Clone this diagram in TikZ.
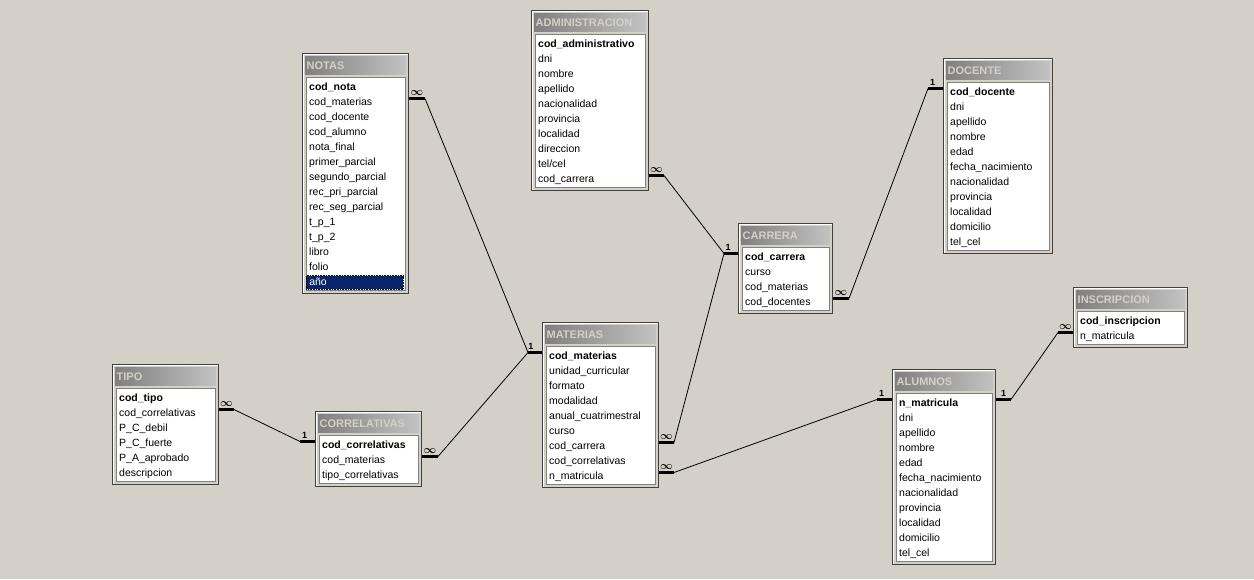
\documentclass[tikz,border=0pt]{standalone}
\usepackage{fontspec}
\setmainfont{Liberation Sans}
\usetikzlibrary{calc}
\definecolor{winbg}{RGB}{212,208,200}
\definecolor{ttldark}{RGB}{128,128,128}
\definecolor{ttllight}{RGB}{194,194,194}
\definecolor{selblue}{RGB}{10,36,106}
\definecolor{frmdark}{RGB}{64,64,64}
\tikzset{
  tblwin/.style={draw=frmdark, fill=winbg, line width=1, anchor=north west, inner sep=0},
  tbltitle/.style={font=\fontsize{11}{12}\selectfont\bfseries, text=winbg, inner sep=0, anchor=west},
  listbox/.style={draw=ttldark, fill=white, line width=1},
  field/.style={font=\fontsize{10.5}{12}\selectfont, inner xsep=1, inner ysep=0,
      text height=8, text depth=2.5, anchor=west},
  stubline/.style={line width=3, black},
  relline/.style={line width=0.8, black},
  cardlbl/.style={font=\fontsize{9}{9}\selectfont\bfseries, inner sep=0, above=2},
}
\newcommand{\manysym}{{\fontsize{11}{11}\selectfont\boldmath$\infty$}}
% name, left, top, width, rows, title, fields
\newcommand{\dbtable}[7]{%
  \node[tblwin, minimum width=#4, minimum height={30+15*#5}] (#1) at (#2,#3) {};
  \draw[white, line width=1] ($(#1.south west)+(1.5,-1.5)$) |- ($(#1.north east)+(-1.5,1.5)$);
  \shade[left color=ttldark, right color=ttllight] ($(#1.north west)+(3,3)$) rectangle ($(#1.north east)+(-3,21)$);
  \node[tbltitle] (#1-title) at ($(#1.north west)+(4.5,12.5)$) {#6};
  \draw[listbox] ($(#1.north west)+(4,24)$) rectangle ($(#1.south east)+(-4,-4)$);
  \foreach \f [count=\i] in {#7} {
    \node[field] (#1-\i) at ($(#1.north west)+(6,19.5+15*\i)$) {\ifnum\i=1 \bfseries\fi\f};
  }
}

\begin{document}
\begin{tikzpicture}[x=1pt, y=-1pt]
  \fill[winbg] (0,0) rectangle (1254,579);

  % tables
  \dbtable{notas}{302}{53}{106}{14}{NOTAS}{cod\_nota,cod\_materias,cod\_docente,cod\_alumno,nota\_final,primer\_parcial,segundo\_parcial,rec\_pri\_parcial,rec\_seg\_parcial,t\_p\_1,t\_p\_2,libro,folio,año}
  \node[field, fill=selblue, text=white, text width=91, inner xsep=3, inner ysep=1.5, align=left,
      draw=black, densely dotted, line width=0.6] (notas-sel) at ($(notas-14.west)+(-2,0)$) {año};
  \dbtable{admin}{531}{10}{117}{10}{ADMINISTRACION}{cod\_administrativo,dni,nombre,apellido,nacionalidad,provincia,localidad,direccion,tel/cel,cod\_carrera}
  \dbtable{docente}{943}{58}{109}{11}{DOCENTE}{cod\_docente,dni,apellido,nombre,edad,fecha\_nacimiento,nacionalidad,provincia,localidad,domicilio,tel\_cel}
  \dbtable{carrera}{738}{223}{94}{4}{CARRERA}{cod\_carrera,curso,cod\_materias,cod\_docentes}
  \dbtable{materias}{542}{322}{116}{9}{MATERIAS}{cod\_materias,unidad\_curricular,formato,modalidad,anual\_cuatrimestral,curso,cod\_carrera,cod\_correlativas,n\_matricula}
  \dbtable{alumnos}{892}{369}{103}{11}{ALUMNOS}{n\_matricula,dni,apellido,nombre,edad,fecha\_nacimiento,nacionalidad,provincia,localidad,domicilio,tel\_cel}
  \dbtable{tipo}{112}{364}{106}{6}{TIPO}{cod\_tipo,cod\_correlativas,P\_C\_debil,P\_C\_fuerte,P\_A\_aprobado,descripcion}
  \dbtable{correl}{315}{411}{106}{3}{CORRELATIVAS}{cod\_correlativas,cod\_materias,tipo\_correlativas}
  \dbtable{inscrip}{1073}{287}{114}{2}{INSCRIPCION}{cod\_inscripcion,n\_matricula}

  % join stubs
  \draw[stubline] ($(notas.east |- notas-2)+(0,-4)$) -- ++(16,0) node[cardlbl, pos=.5] {\manysym} coordinate (notas-r);
  \draw[stubline] ($(admin.east |- admin-10)+(0,-4)$) -- ++(15,0) node[cardlbl, pos=.5] {\manysym} coordinate (admin-r);
  \draw[stubline] ($(carrera.west |- carrera-1)+(0,-4)$) -- ++(-14,0) node[cardlbl, pos=.7] {1} coordinate (carrera-l);
  \draw[stubline] ($(carrera.east |- carrera-4)+(0,-4)$) -- ++(16,0) node[cardlbl, pos=.5] {\manysym} coordinate (carrera-r);
  \draw[stubline] ($(docente.west |- docente-1)+(0,-4)$) -- ++(-15,0) node[cardlbl, pos=.7] {1} coordinate (docente-l);
  \draw[stubline] ($(materias.west |- materias-1)+(0,-4)$) -- ++(-14,0) node[cardlbl, pos=.8] {1} coordinate (materias-l);
  \draw[stubline] ($(materias.east |- materias-7)+(0,-4)$) -- ++(15,0) node[cardlbl, pos=.5] {\manysym} coordinate (materias-r1);
  \draw[stubline] ($(materias.east |- materias-9)+(0,-4)$) -- ++(15,0) node[cardlbl, pos=.5] {\manysym} coordinate (materias-r2);
  \draw[stubline] ($(alumnos.west |- alumnos-1)+(0,-4)$) -- ++(-15,0) node[cardlbl, pos=.7] {1} coordinate (alumnos-l);
  \draw[stubline] ($(alumnos.east |- alumnos-1)+(0,-4)$) -- ++(15,0) node[cardlbl, pos=.5] {1} coordinate (alumnos-r);
  \draw[stubline] ($(inscrip.west |- inscrip-2)+(0,-4)$) -- ++(-15,0) node[cardlbl, pos=.5] {\manysym} coordinate (inscrip-l);
  \draw[stubline] ($(tipo.east |- tipo-2)+(0,-4)$) -- ++(15,0) node[cardlbl, pos=.5] {\manysym} coordinate (tipo-r);
  \draw[stubline] ($(correl.west |- correl-1)+(0,-4)$) -- ++(-15,0) node[cardlbl, pos=.7] {1} coordinate (correl-l);
  \draw[stubline] ($(correl.east |- correl-2)+(0,-4)$) -- ++(16,0) node[cardlbl, pos=.5] {\manysym} coordinate (correl-r);

  % relations
  \draw[relline] (notas-r) -- (materias-l);
  \draw[relline] (correl-r) -- (materias-l);
  \draw[relline] (tipo-r) -- (correl-l);
  \draw[relline] (admin-r) -- (carrera-l);
  \draw[relline] (materias-r1) -- (carrera-l);
  \draw[relline] (carrera-r) -- (docente-l);
  \draw[relline] (materias-r2) -- (alumnos-l);
  \draw[relline] (alumnos-r) -- (inscrip-l);
\end{tikzpicture}
\end{document}
